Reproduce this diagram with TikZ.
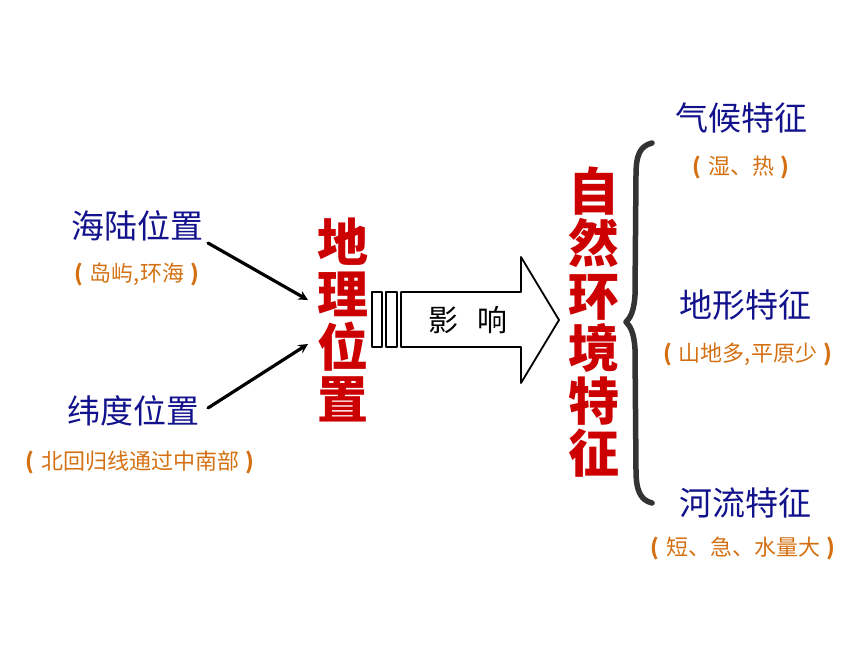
\documentclass[tikz,border=0pt]{standalone}
\usepackage{fontspec}
\newfontfamily\cjk{Noto Sans CJK SC}
\definecolor{posblue}{RGB}{18,18,140}
\definecolor{noteorange}{RGB}{212,112,18}
\definecolor{keyred}{RGB}{204,0,0}
\newcommand\bracketed[1]{\textbf{(}\hspace{0.3em}#1\hspace{0.3em}\textbf{)}}
\tikzset{
	featname/.style={text=posblue,font=\cjk\fontsize{33}{35}\selectfont,inner sep=0pt},
	featnote/.style={text=noteorange,font=\cjk\fontsize{22}{24}\selectfont,inner sep=0pt},
	redkey/.style={text=keyred,font=\cjk\bfseries\fontsize{51}{52.5}\selectfont,align=center,inner sep=0pt}
}
\begin{document}
\begin{tikzpicture}[x=1pt,y=-1pt,line join = round, line cap=round,>=stealth]
	\useasboundingbox (0,0) rectangle (860,645);
	\path
	(208,243) coordinate (A1)
	(308,300) coordinate (A2)
	(208,408) coordinate (B1)
	(308,344) coordinate (B2);
	% left side
	\node[featname] (sealand) at (137,226) {海陆位置};
	\node[featnote] (sealandN) at (137,274) {\bracketed{岛屿,环海}};
	\node[featname] (lat) at (133,411) {纬度位置};
	\node[featnote] (latN) at (140,462) {\bracketed{北回归线通过中南部}};
	\node[redkey] (geo) at (343,320) {地\\理\\位\\置};
	\draw[->,line width=3.2pt](A1)--(A2);
	\draw[->,line width=3.2pt](B1)--(B2);
	% influence arrow
	\draw[line width=1.8pt](372,292) rectangle (382,347);
	\draw[line width=1.8pt](386,292) rectangle (397,347);
	\draw[line width=1.8pt](401,292)--(521,292)--(521,257)--(559,320)--(521,383)--(521,347)--(401,347)--cycle;
	\node[font=\cjk\fontsize{30}{32}\selectfont,inner sep=0pt] (infl) at (468,320) {影\hspace{0.65em}响};
	\node[redkey] (env) at (594,322) {自\\然\\环\\境\\特\\征};
	% brace
	\draw[line width=5.5pt,color=black!80] (652,143) .. controls (640,146) and (636,155) .. (636,175)
		-- (635,295) .. controls (634,312) and (630,318) .. (626,322)
		.. controls (630,326) and (634,332) .. (635,349)
		-- (636,470) .. controls (636,490) and (640,500) .. (652,503);
	% right side
	\node[featname] (clim) at (741,118) {气候特征};
	\node[featnote] (climN) at (741,168) {\bracketed{湿、热}};
	\node[featname] (land) at (745,305) {地形特征};
	\node[featnote] (landN) at (748,354) {\bracketed{山地多,平原少}};
	\node[featname] (river) at (745,503) {河流特征};
	\node[featnote] (riverN) at (743,548) {\bracketed{短、急、水量大}};
\end{tikzpicture}
\end{document}
